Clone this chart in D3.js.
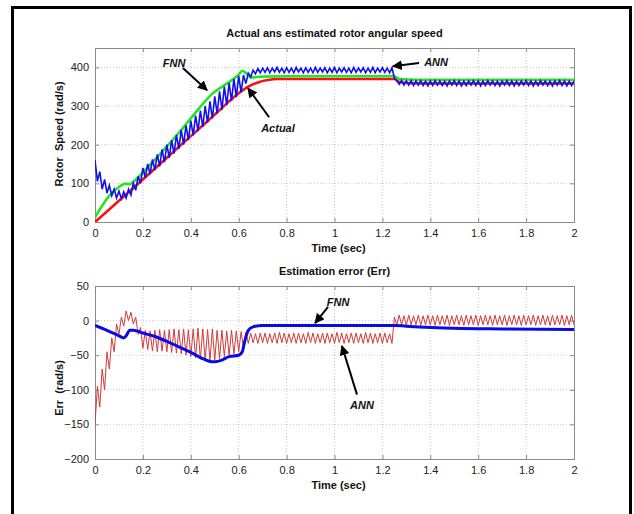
<!DOCTYPE html>
<html>
<head>
<meta charset="utf-8">
<script src="https://cdn.jsdelivr.net/npm/d3@7/dist/d3.min.js"></script>
<style>
  html, body { margin: 0; padding: 0; background: #fff; }
  svg { display: block; font-family: "Liberation Sans", Arial, sans-serif; }
</style>
</head>
<body>
<svg id="fig" width="634" height="514"></svg>
<script>
// ---- Upper panel: rotor speed (rad/s) ----
const timeTicks = [0, 0.2, 0.4, 0.6, 0.8, 1, 1.2, 1.4, 1.6, 1.8, 2];
const speedTicks = [0, 100, 200, 300, 400];
const errTicks = [-200, -150, -100, -50, 0, 50];

// actual rotor speed
const actualTime  = [0, 0.1, 0.2, 0.3, 0.4, 0.5, 0.6, 0.64, 0.68, 0.72, 0.76, 0.8, 1.25, 1.27, 1.32, 1.4, 2];
const actualSpeed = [0, 55, 110, 166, 222, 278, 333, 350, 361, 367, 370, 370, 370, 362, 359, 358, 358];

// FNN estimated speed
const fnnTime  = [0, 0.03, 0.06, 0.09, 0.11, 0.125, 0.145, 0.165, 0.19, 0.26, 0.36, 0.42, 0.49, 0.55, 0.6, 0.615, 0.63, 0.65, 0.7, 0.8, 1.25, 1.27, 1.35, 2];
const fnnSpeed = [12, 42, 68, 86, 95, 99, 98, 107, 122, 168, 238, 283, 332, 358, 381, 391, 385, 374, 376, 377, 377, 370, 368, 368];

// ANN estimated speed, sampled every 0.01 s
const sampleStep = 0.01;
const annSpeed = [
  160,105,130,85,110,75,95,68,85,62,
  80,60,78,62,85,70,100,82,118,100,
  140,115,150,124,162,134,175,144,188,155,
  200,166,212,177,225,189,238,200,250,212,
  262,224,275,235,288,246,300,257,312,268,
  325,280,338,290,350,302,360,313,370,323,
  378,335,380,358,385,375,393,383,397,386,
  398,387,399,386,398,388,400,387,398,386,
  399,387,398,386,400,388,398,386,399,387,
  398,386,400,387,398,388,399,386,398,387,
  400,386,398,388,399,387,398,386,400,387,
  398,388,399,386,398,387,400,386,398,388,
  399,387,398,386,399,372,366,356,366,354,
  365,354,366,353,365,354,366,353,364,352,
  365,353,366,354,365,353,364,352,365,354,
  366,353,365,352,364,353,365,354,366,353,
  365,352,364,353,366,354,365,353,364,352,
  365,354,366,353,365,352,364,353,365,354,
  366,353,365,352,364,353,366,354,365,353,
  364,352,365,354,366,353,365,352,364,353,
  365
];

// ---- Lower panel: estimation error (rad/s) ----
// ANN error, sampled every 0.01 s
const annErr = [
  -150,-95,-125,-70,-100,-45,-70,-25,-45,-5,
  -20,5,-8,14,0,12,-5,5,-20,-10,
  -40,-14,-42,-15,-44,-14,-45,-13,-44,-14,
  -45,-13,-46,-12,-47,-13,-48,-12,-50,-13,
  -52,-12,-54,-11,-56,-12,-57,-13,-58,-12,
  -57,-14,-55,-14,-52,-15,-50,-14,-48,-15,
  -45,-16,-40,-17,-33,-18,-32,-19,-33,-18,
  -32,-18,-33,-19,-32,-18,-33,-17,-32,-18,
  -33,-19,-32,-18,-33,-18,-32,-19,-33,-17,
  -32,-18,-33,-19,-32,-18,-33,-18,-32,-19,
  -33,-17,-32,-18,-33,-19,-32,-18,-33,-18,
  -32,-19,-33,-17,-32,-18,-33,-19,-32,-18,
  -33,-18,-32,-19,-33,5,-6,8,-6,7,
  -7,8,-6,7,-6,8,-7,7,-6,8,
  -6,7,-7,8,-6,7,-6,8,-7,7,
  -6,8,-6,7,-7,8,-6,7,-6,8,
  -7,7,-6,8,-6,7,-7,8,-6,7,
  -6,8,-7,7,-6,8,-6,7,-7,8,
  -6,7,-6,8,-7,7,-6,8,-6,7,
  -7,8,-6,7,-6,8,-7,7,-6,8,
  -6
];

// FNN error
const fnnErrTime = [0, 0.05, 0.1, 0.12, 0.13, 0.145, 0.16, 0.2, 0.25, 0.3, 0.35, 0.4, 0.45, 0.48, 0.5, 0.53, 0.56, 0.6, 0.615, 0.625, 0.64, 0.66, 0.7, 1.25, 1.3, 1.5, 1.7, 2];
const fnnErr     = [-7, -14, -22, -25, -22, -14, -14, -18, -23, -30, -38, -46, -55, -59, -59.5, -57, -52, -50, -45, -30, -14, -9, -7, -7, -8, -11, -12, -13];

// annotation labels: [text, label t, label v, arrow from t, from v, arrow to t, to v]
const speedNotes = [
  ["FNN",    0.33,  412, 0.367, 398, 0.468, 341],
  ["Actual", 0.764, 243, 0.727, 271, 0.639, 346],
  ["ANN",    1.424, 414, 1.353, 411, 1.244, 403]
];
const errNotes = [
  ["FNN", 1.015, 27,   0.973, 19.7, 0.919, -3.5],
  ["ANN", 1.115, -122, 1.094, -107, 1.031, -36.7]
];

const svg = d3.select("#fig");

// outer frame
svg.append("rect").attr("x", 12.5).attr("y", 7.5).attr("width", 618).attr("height", 540)
  .attr("fill", "none").attr("stroke", "#000").attr("stroke-width", 3);

const defs = svg.append("defs");
defs.append("marker").attr("id", "head").attr("viewBox", "0 0 10 10")
  .attr("refX", 9).attr("refY", 5).attr("markerWidth", 5).attr("markerHeight", 5)
  .attr("orient", "auto")
  .append("path").attr("d", "M0,0 L10,5 L0,10 Z").attr("fill", "#000");

function panel(opts) {
  const { left, right, top, bottom, yDomain, yTicks, title, yLabel, yLabelY, clipId } = opts;
  const x = d3.scaleLinear().domain([0, 2]).range([left, right]);
  const y = d3.scaleLinear().domain(yDomain).range([bottom, top]);
  const g = svg.append("g");

  defs.append("clipPath").attr("id", clipId)
    .append("rect").attr("x", left).attr("y", top).attr("width", right - left).attr("height", bottom - top);

  // grid
  g.append("g").selectAll("line").data(timeTicks.slice(1, -1)).join("line")
    .attr("x1", d => x(d)).attr("x2", d => x(d)).attr("y1", top).attr("y2", bottom)
    .attr("stroke", "#c8c8c8").attr("stroke-width", 1).attr("stroke-dasharray", "1,2");
  g.append("g").selectAll("line").data(yTicks.filter(d => d !== yDomain[0] && d !== yDomain[1])).join("line")
    .attr("x1", left).attr("x2", right).attr("y1", d => y(d)).attr("y2", d => y(d))
    .attr("stroke", "#c8c8c8").attr("stroke-width", 1).attr("stroke-dasharray", "1,2");

  // axes with inward ticks
  const axStyle = sel => {
    sel.select(".domain").remove();
    sel.selectAll(".tick line").attr("stroke", "#8a8a8a");
    sel.selectAll(".tick text").attr("fill", "#222").style("font-size", "11px")
      .style("font-family", "'Liberation Sans', Arial, sans-serif");
  };
  g.append("g").attr("transform", `translate(0,${bottom})`)
    .call(d3.axisBottom(x).tickValues(timeTicks).tickFormat(d3.format("")).tickSizeInner(-4).tickPadding(7))
    .call(axStyle);
  g.append("g").attr("transform", `translate(0,${top})`)
    .call(d3.axisTop(x).tickValues(timeTicks).tickFormat("").tickSizeInner(-4))
    .call(axStyle);
  g.append("g").attr("transform", `translate(${left},0)`)
    .call(d3.axisLeft(y).tickValues(yTicks).tickFormat(d3.format("")).tickSizeInner(-4).tickPadding(6))
    .call(axStyle);
  g.append("g").attr("transform", `translate(${right},0)`)
    .call(d3.axisRight(y).tickValues(yTicks).tickFormat("").tickSizeInner(-4))
    .call(axStyle);

  g.append("rect").attr("x", left + 0.5).attr("y", top + 0.5)
    .attr("width", right - left).attr("height", bottom - top)
    .attr("fill", "none").attr("stroke", "#8a8a8a").attr("stroke-width", 1);

  // titles
  g.append("text").attr("x", (left + right) / 2).attr("y", top - 11)
    .attr("text-anchor", "middle").attr("fill", "#111")
    .style("font-size", "11px").style("font-weight", "bold").text(title);
  g.append("text").attr("x", (left + right) / 2 + 4).attr("y", bottom + 30)
    .attr("text-anchor", "middle").attr("fill", "#111")
    .style("font-size", "11px").style("font-weight", "bold").text("Time (sec)");
  g.append("text").attr("transform", `translate(${left - 36},${yLabelY}) rotate(-90)`)
    .attr("text-anchor", "middle").attr("dominant-baseline", "central").attr("fill", "#111")
    .style("font-size", "11px").style("font-weight", "bold").style("white-space", "pre").text(yLabel);

  const plot = svg.append("g").attr("clip-path", `url(#${clipId})`);
  return { x, y, plot };
}

function drawNotes(p, notes) {
  notes.forEach(([label, lt, lv, ft, fv, tt, tv]) => {
    p.plot.append("line")
      .attr("x1", p.x(ft)).attr("y1", p.y(fv)).attr("x2", p.x(tt)).attr("y2", p.y(tv))
      .attr("stroke", "#000").attr("stroke-width", 2).attr("marker-end", "url(#head)");
    svg.append("text").attr("x", p.x(lt)).attr("y", p.y(lv))
      .attr("text-anchor", "middle").attr("dominant-baseline", "central")
      .attr("fill", "#111").style("font-size", "11px").style("font-weight", "bold")
      .style("font-style", "italic").text(label);
  });
}

// upper panel
const speedPanel = panel({
  left: 95, right: 574, top: 48, bottom: 222,
  yDomain: [0, 450], yTicks: speedTicks,
  title: "Actual ans estimated rotor angular speed",
  yLabel: "Rotor  Speed (rad/s)", yLabelY: 134, clipId: "clipTop"
});
const smooth = (xs, ys, p) => d3.line().curve(d3.curveMonotoneX)
  .x((d, i) => p.x(xs[i])).y(d => p.y(d))(ys);
const sampled = (ys, p) => d3.line().x((d, i) => p.x(i * sampleStep)).y(d => p.y(d))(ys);

speedPanel.plot.append("path").attr("d", smooth(actualTime, actualSpeed, speedPanel))
  .attr("fill", "none").attr("stroke", "#ff1010").attr("stroke-width", 2.6);
speedPanel.plot.append("path").attr("d", smooth(fnnTime, fnnSpeed, speedPanel))
  .attr("fill", "none").attr("stroke", "#22e622").attr("stroke-width", 2.6);
speedPanel.plot.append("path").attr("d", sampled(annSpeed, speedPanel))
  .attr("fill", "none").attr("stroke", "#1010f0").attr("stroke-width", 1.6);
drawNotes(speedPanel, speedNotes);

// lower panel
const errPanel = panel({
  left: 95, right: 574, top: 286, bottom: 459,
  yDomain: [-200, 50], yTicks: errTicks,
  title: "Estimation error (Err)",
  yLabel: "Err  (rad/s)", yLabelY: 388, clipId: "clipBot"
});
errPanel.plot.append("path").attr("d", sampled(annErr, errPanel))
  .attr("fill", "none").attr("stroke", "#d23a3a").attr("stroke-width", 1);
errPanel.plot.append("path").attr("d", smooth(fnnErrTime, fnnErr, errPanel))
  .attr("fill", "none").attr("stroke", "#0a0ae6").attr("stroke-width", 3);
drawNotes(errPanel, errNotes);
</script>
</body>
</html>
